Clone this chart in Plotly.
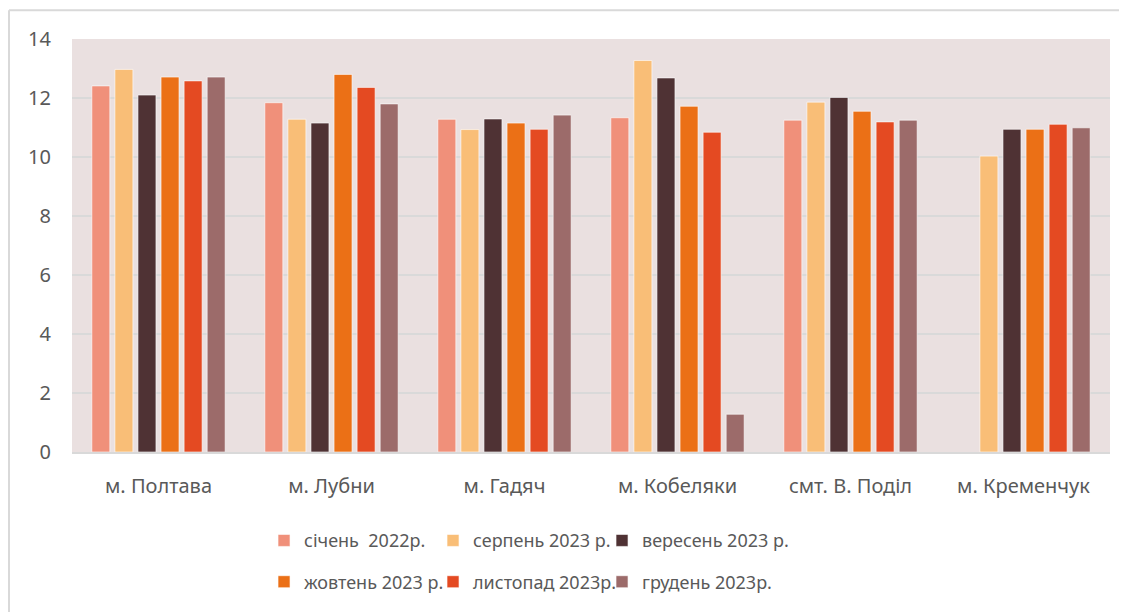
import plotly.graph_objects as go

categories = ["м. Полтава", "м. Лубни", "м. Гадяч", "м. Кобеляки", "смт. В. Поділ", "м. Кременчук"]
series_names = ["січень  2022р.", "серпень 2023 р.", "вересень 2023 р.",
                "жовтень 2023 р.", "листопад 2023р.", "грудень 2023р."]
jan_2022 = [12.41, 11.84, 11.28, 11.33, 11.25, None]
aug_2023 = [12.97, 11.28, 10.93, 13.27, 11.86, 10.03]
sep_2023 = [12.10, 11.15, 11.29, 12.68, 12.02, 10.94]
oct_2023 = [12.71, 12.80, 11.15, 11.72, 11.55, 10.94]
nov_2023 = [12.58, 12.36, 10.94, 10.84, 11.19, 11.11]
dec_2023 = [12.71, 11.80, 11.42, 1.28, 11.25, 10.99]
series_values = [jan_2022, aug_2023, sep_2023, oct_2023, nov_2023, dec_2023]
colors = ["#F0907A", "#F9BE77", "#4F3234", "#EB7016", "#E44A22", "#9C6B6A"]
y_ticks = [0, 2, 4, 6, 8, 10, 12, 14]

FONT = "Noto Sans"
W, H = 1119, 604
L, T, PW, PH = 64, 31, 1038, 417
fig = go.Figure()
for i, (name, vals, col) in enumerate(zip(series_names, series_values, colors)):
    fig.add_trace(go.Bar(
        x=categories, y=vals, name=name,
        marker=dict(color=col, line=dict(color="rgba(255,255,255,0.6)", width=1)),
        legend="legend" if i < 3 else "legend2",
    ))
# invisible spacer entries so the last legend text in each row is not clipped
for lg in ["legend", "legend2"]:
    fig.add_trace(go.Scatter(x=[None], y=[None], mode="markers", name=" ",
                             marker=dict(color="rgba(0,0,0,0)"), legend=lg,
                             hoverinfo="skip"))

leg_common = dict(orientation="h", x=0.185, xanchor="left", yanchor="top",
                  font=dict(size=18, color="#595959"), itemwidth=30, tracegroupgap=0,
                  entrywidth=124, bgcolor="rgba(0,0,0,0)")
fig.update_layout(
    width=W, height=H,
    margin=dict(l=L, r=W - L - PW, t=T, b=H - T - PH),
    paper_bgcolor="white",
    plot_bgcolor="#EAE0E0",
    barmode="group", bargap=0.2, bargroupgap=0.22,
    font=dict(family=FONT, size=16, color="#595959"),
    xaxis=dict(showgrid=False, ticks="", showline=True, linecolor="#D9D9D9", linewidth=2,
               ticklabelstandoff=15, tickfont=dict(size=20, color="#595959")),
    yaxis=dict(range=[0, 14], tickvals=y_ticks, showgrid=True, gridcolor="#D9D9D9", gridwidth=2,
               zeroline=False, ticks="", ticklabelstandoff=20, tickfont=dict(size=20, color="#595959")),
    legend=dict(y=-0.17, **leg_common),
    legend2=dict(y=-0.27, **leg_common),
    showlegend=True,
)
# outer frame lines (top and left edges of the chart container)
fx = (1 - L) / PW
fy = (T + PH - 2) / PH
fig.add_shape(type="line", xref="paper", yref="paper",
              x0=fx, x1=1.05, y0=fy, y1=fy, line=dict(color="#D9D9D9", width=2))
fig.add_shape(type="line", xref="paper", yref="paper",
              x0=fx, x1=fx, y0=fy, y1=-0.5, line=dict(color="#D9D9D9", width=2))

fig.write_html("out.html")
